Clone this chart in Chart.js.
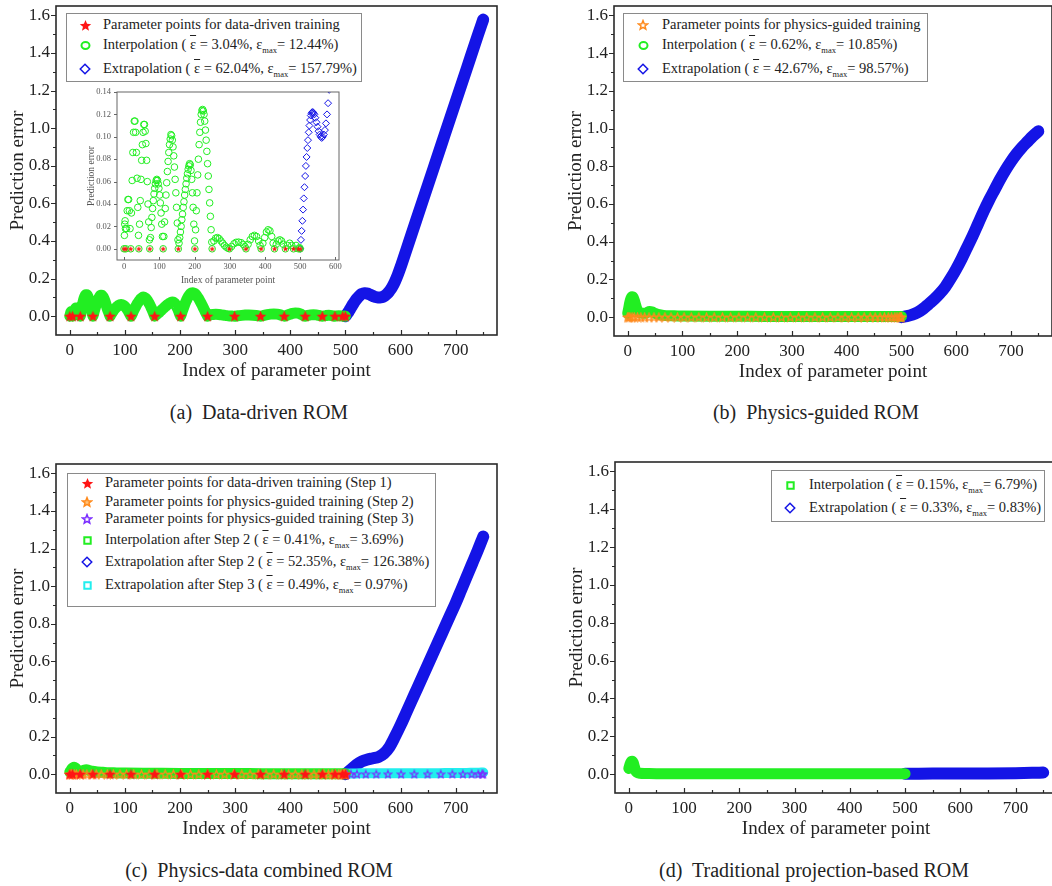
<!DOCTYPE html>
<html>
<head>
<meta charset="utf-8">
<title>Prediction error of reduced-order models</title>
<script src="https://cdn.jsdelivr.net/npm/chart.js@4.4.0/dist/chart.umd.min.js"></script>
<style>
  html, body { margin: 0; padding: 0; background: #fff; }
  body { width: 1052px; height: 886px; overflow: hidden; position: relative;
         font-family: 'Liberation Serif', 'Times New Roman', serif; color: #222; }
  canvas { position: absolute; }
  .legend { position: absolute; box-sizing: border-box; border: 1px solid #8a8a8a; background: #fff; }
  .row { position: absolute; white-space: nowrap; font-size: 14.5px; line-height: 16px; }
  .row sub { font-size: 8.5px; vertical-align: -4px; line-height: 0; }
  .bar { text-decoration: overline; }
  .cap { position: absolute; font-size: 20px; line-height: 20px; white-space: pre; transform: translateX(-50%); }
</style>
</head>
<body>
<canvas id="pa"></canvas>
<canvas id="pb"></canvas>
<canvas id="pc"></canvas>
<canvas id="pd"></canvas>
<canvas id="pi"></canvas>

<div class="cap" style="left:259px; top:402px;">(a)  Data-driven ROM</div>
<div class="cap" style="left:816px; top:402px;">(b)  Physics-guided ROM</div>
<div class="cap" style="left:259px; top:860px;">(c)  Physics-data combined ROM</div>
<div class="cap" style="left:814px; top:860px;">(d)  Traditional projection-based ROM</div>

<script>
// axis ticks
const xTicks = [0, 100, 200, 300, 400, 500, 600, 700];
const xMinor = [50, 150, 250, 350, 450, 550, 650, 750];
const yTicks = [0, 0.2, 0.4, 0.6, 0.8, 1.0, 1.2, 1.4, 1.6];
const yMinor = [0.1, 0.3, 0.5, 0.7, 0.9, 1.1, 1.3, 1.5];
const insetXTicks = [0, 100, 200, 300, 400, 500, 600];
const insetYTicks = [0, 0.02, 0.04, 0.06, 0.08, 0.10, 0.12, 0.14];

// training parameter points (error is zero there)
const trainIdx = [0, 5, 19, 42, 73, 111, 154, 201, 250, 299, 346, 389, 427, 458, 481, 495, 500];
const physIdx = [0, 2, 4, 8, 12, 18, 24, 31, 39, 48, 57, 68, 79, 91, 103, 116, 130, 144, 158, 173,
  188, 203, 219, 234, 250, 266, 281, 297, 312, 327, 342, 356, 370, 384, 397, 409, 421, 432, 443,
  452, 461, 469, 476, 482, 488, 492, 496, 498, 500];
const step3Idx = [500, 503, 510, 521, 537, 556, 577, 601, 625, 649, 673, 694, 713, 729, 741, 748, 750];

// (a) data-driven ROM, one line per lobe between training points
const interpIdxA = [
  0, 1, 2, 3, 4, 5,
  7, 9, 11, 13, 15, 17, 19,
  21, 23, 25, 27, 29, 31, 33, 35, 37, 39, 41, 42,
  44, 46, 48, 50, 52, 54, 56, 58, 60, 62, 64, 66, 68, 70, 72, 73,
  75, 77, 79, 81, 83, 85, 87, 89, 91, 93, 95, 97, 99, 101, 103, 105, 107, 109, 111,
  113, 115, 117, 119, 121, 123, 125, 127, 129, 131, 133, 135, 137, 139, 141, 143, 145, 147, 149, 151, 153, 154,
  156, 158, 160, 162, 164, 166, 168, 170, 172, 174, 176, 178, 180, 182, 184, 186, 188, 190, 192, 194, 196, 198, 200, 201,
  203, 205, 207, 209, 211, 213, 215, 217, 219, 221, 223, 225, 227, 229, 231, 233, 235, 237, 239, 241, 243, 245, 247, 249, 250,
  255, 260, 265, 270, 275, 280, 285, 290, 295, 299,
  305, 312, 318, 325, 332, 338, 343, 346,
  352, 358, 364, 370, 376, 382, 386, 389,
  394, 399, 404, 409, 414, 419, 423, 427,
  432, 437, 442, 447, 452, 458,
  464, 470, 476, 481,
  488, 495,
  498, 500];
const interpErrA = [
  0, 0.012, 0.022, 0.025, 0.018, 0,
  0.018, 0.034, 0.044, 0.044, 0.034, 0.018, 0,
  0.032, 0.061, 0.086, 0.104, 0.114, 0.114, 0.104, 0.086, 0.063, 0.037, 0.012, 0,
  0.022, 0.043, 0.062, 0.079, 0.093, 0.104, 0.111, 0.111, 0.105, 0.094, 0.079, 0.06, 0.04, 0.024, 0.008, 0,
  0.01, 0.019, 0.028, 0.036, 0.043, 0.049, 0.054, 0.058, 0.061, 0.062, 0.061, 0.058, 0.054, 0.048, 0.041, 0.032, 0.022, 0.011, 0,
  0.011, 0.024, 0.036, 0.048, 0.059, 0.069, 0.078, 0.086, 0.093, 0.098, 0.102, 0.101, 0.097, 0.091, 0.083, 0.073, 0.062, 0.05, 0.037, 0.023, 0.008, 0,
  0.005, 0.01, 0.015, 0.02, 0.026, 0.031, 0.037, 0.042, 0.048, 0.053, 0.058, 0.063, 0.067, 0.071, 0.074, 0.076, 0.075, 0.07, 0.062, 0.05, 0.037, 0.022, 0.007, 0,
  0.017, 0.034, 0.05, 0.066, 0.08, 0.093, 0.104, 0.113, 0.12, 0.1235, 0.1244, 0.123, 0.12, 0.114, 0.106, 0.097, 0.087, 0.076, 0.065, 0.053, 0.041, 0.029, 0.017, 0.006, 0,
  0.007, 0.0095, 0.01, 0.009, 0.007, 0.005, 0.003, 0.0015, 0.0005, 0,
  0.002, 0.0045, 0.0058, 0.006, 0.0055, 0.004, 0.002, 0,
  0.004, 0.008, 0.011, 0.012, 0.011, 0.007, 0.003, 0,
  0.005, 0.01, 0.015, 0.017, 0.016, 0.011, 0.005, 0,
  0.004, 0.007, 0.008, 0.007, 0.004, 0,
  0.003, 0.005, 0.003, 0,
  0.003, 0,
  0.001, 0];
const extrapIdxA = [
  500, 502, 504, 506, 508, 510, 512, 514, 516, 518, 520, 522, 524, 526, 528, 530, 532, 534, 536, 538, 540,
  543, 546, 549, 552, 555, 558, 561, 564, 567, 570, 573, 576, 579, 582, 585,
  590, 595, 600,
  610, 620, 640, 660, 680, 700, 720, 740, 750];
const extrapErrA = [
  0, 0.008, 0.016, 0.025, 0.035, 0.045, 0.055, 0.065, 0.074, 0.082, 0.09, 0.097, 0.104, 0.11, 0.115, 0.119, 0.121, 0.122, 0.122, 0.121, 0.12,
  0.117, 0.113, 0.109, 0.105, 0.102, 0.1, 0.099, 0.1, 0.102, 0.106, 0.112, 0.12, 0.13, 0.142, 0.156,
  0.185, 0.22, 0.26,
  0.348, 0.436, 0.612, 0.788, 0.964, 1.14, 1.316, 1.492, 1.5779];

// (b) physics-guided ROM
const interpIdxB = [0, 2, 4, 6, 8, 10, 12, 14, 16, 18, 20, 25, 30, 35, 40, 45, 50, 60, 70, 85, 100,
  150, 200, 250, 300, 350, 400, 450, 500];
const interpErrB = [0.02, 0.05, 0.08, 0.1, 0.1085, 0.105, 0.09, 0.07, 0.05, 0.035, 0.028, 0.022, 0.02,
  0.024, 0.03, 0.027, 0.02, 0.012, 0.008, 0.007, 0.006, 0.005, 0.005, 0.004, 0.004, 0.004, 0.004,
  0.004, 0.004];
const extrapIdxB = [500, 510, 520, 530, 540, 550, 560, 570, 580, 590, 600, 610, 620, 630, 640, 650,
  660, 670, 680, 690, 700, 710, 720, 730, 740, 750];
const extrapErrB = [0, 0.005, 0.013, 0.026, 0.045, 0.07, 0.095, 0.125, 0.16, 0.205, 0.255, 0.31, 0.37,
  0.43, 0.495, 0.56, 0.62, 0.675, 0.73, 0.78, 0.825, 0.865, 0.9, 0.93, 0.96, 0.9857];

// (c) physics-data combined ROM
const interpIdxC = [0, 2, 4, 6, 8, 10, 12, 14, 16, 20, 25, 30, 35, 40, 50, 60, 70, 85, 100, 150, 200,
  250, 300, 350, 400, 450, 500];
const interpErrC = [0.012, 0.02, 0.03, 0.035, 0.0369, 0.034, 0.028, 0.02, 0.016, 0.014, 0.02, 0.024,
  0.02, 0.016, 0.012, 0.01, 0.008, 0.007, 0.006, 0.005, 0.004, 0.004, 0.004, 0.003, 0.003, 0.003, 0.003];
const extrapIdxC = [500, 510, 520, 530, 540, 550, 560, 570, 580, 590, 600, 610, 620, 630, 640, 650,
  660, 670, 680, 690, 700, 710, 720, 730, 740, 750];
const extrapErrC = [0, 0.025, 0.05, 0.068, 0.078, 0.085, 0.092, 0.11, 0.145, 0.2, 0.26, 0.325, 0.39,
  0.455, 0.52, 0.585, 0.65, 0.715, 0.78, 0.845, 0.91, 0.98, 1.05, 1.12, 1.19, 1.2638];
const step3ExtIdx = [500, 520, 540, 560, 580, 600, 620, 640, 660, 680, 700, 720, 740, 750];
const step3ExtErr = [0.003, 0.004, 0.005, 0.005, 0.005, 0.005, 0.005, 0.005, 0.005, 0.006, 0.006,
  0.007, 0.008, 0.0097];

// (d) traditional projection-based ROM
const interpIdxD = [0, 2, 4, 6, 8, 10, 12, 15, 20, 30, 50, 100, 200, 300, 400, 500];
const interpErrD = [0.03, 0.05, 0.064, 0.0679, 0.06, 0.04, 0.02, 0.008, 0.004, 0.003, 0.002, 0.002,
  0.0015, 0.0015, 0.0015, 0.002];
const extrapIdxD = [500, 550, 600, 650, 700, 730, 750];
const extrapErrD = [0.002, 0.0025, 0.003, 0.0035, 0.005, 0.0065, 0.0083];

const GREEN = '#22ee22', BLUE = '#1414e6', RED = '#ff1414', ORANGE = '#ff8a1c',
      PURPLE = '#7a2cff', CYAN = '#22eeee', INK = '#222';

Chart.defaults.font.family = "'Liberation Serif', 'Times New Roman', serif";
Chart.defaults.color = INK;

// small marker bitmaps used as point styles and legend symbols
function mark(kind, size, color, lw, fill) {
  const c = document.createElement('canvas');
  c.width = c.height = size;
  const g = c.getContext('2d');
  const m = size / 2, r = m - (lw || 0) / 2 - 0.5;
  g.beginPath();
  if (kind === 'star') {
    for (let i = 0; i < 10; i++) {
      const a = -Math.PI / 2 + i * Math.PI / 5, rr = i % 2 ? r * 0.44 : r;
      g.lineTo(m + rr * Math.cos(a), m + r * 0.08 + rr * Math.sin(a));
    }
    g.closePath();
  } else if (kind === 'circle') {
    g.ellipse(m, m, r, r * 0.85, 0, 0, 2 * Math.PI);
  } else if (kind === 'diamond') {
    g.moveTo(m, m - r); g.lineTo(m + r, m); g.lineTo(m, m + r); g.lineTo(m - r, m); g.closePath();
  } else {
    g.rect(m - r * 0.8, m - r * 0.8, r * 1.6, r * 1.6);
  }
  if (fill) { g.fillStyle = fill; g.fill(); }
  if (lw) { g.strokeStyle = color; g.lineWidth = lw; g.stroke(); }
  return c;
}

const pairs = (xs, ys) => xs.map((x, i) => ({ x, y: ys[i] }));
const onZero = xs => xs.map(x => ({ x, y: 0 }));

// dense markers read as a thick band in the full-size panels
function band(xs, ys, color, w) {
  return { data: pairs(xs, ys), showLine: true, borderColor: color, borderWidth: w,
           pointRadius: 0, pointHoverRadius: 0, cubicInterpolationMode: 'monotone',
           borderCapStyle: 'round', borderJoinStyle: 'round' };
}
function stars(data, img) {
  return { data, showLine: false, pointStyle: img, pointRadius: 5, pointHoverRadius: 5 };
}

// box frame plus inward x ticks / outward y ticks
function frame(o) {
  return {
    id: 'frame',
    afterDatasetsDraw(chart) {
      const { ctx, chartArea: a } = chart;
      const sx = chart.scales.x, sy = chart.scales.y;
      ctx.save();
      ctx.strokeStyle = o.color;
      ctx.lineWidth = o.tickWidth;
      ctx.beginPath();
      const xt = (list, len) => list.forEach(v => {
        const p = Math.round(sx.getPixelForValue(v)) + 0.5;
        if (p < a.left || p > a.right) return;
        ctx.moveTo(p, a.bottom); ctx.lineTo(p, a.bottom - len);
      });
      const yt = (list, len) => list.forEach(v => {
        const p = Math.round(sy.getPixelForValue(v)) + 0.5;
        ctx.moveTo(a.left, p); ctx.lineTo(a.left - len, p);
      });
      xt(o.xMajor, o.major); xt(o.xMinor, o.minor);
      yt(o.yMajor, o.major); yt(o.yMinor, o.minor);
      ctx.stroke();
      ctx.lineWidth = o.frameWidth;
      ctx.strokeRect(a.left, a.top, a.right - a.left, a.bottom - a.top);
      ctx.restore();
    }
  };
}

function panel(id, g, datasets, s) {
  const cv = document.getElementById(id);
  cv.width = g.w; cv.height = g.h;
  cv.style.left = g.x + 'px'; cv.style.top = g.y + 'px';
  return new Chart(cv, {
    type: 'scatter',
    data: { datasets },
    options: {
      responsive: false, animation: false, events: [],
      layout: { padding: { left: 0, top: g.pt - g.y, right: g.x + g.w - g.pr, bottom: g.y + g.h - g.pb - s.xh } },
      plugins: { legend: { display: false }, tooltip: { enabled: false } },
      scales: {
        x: {
          type: 'linear', min: s.xmin, max: s.xmax,
          afterBuildTicks: a => { a.ticks = s.xt.map(v => ({ value: v })); },
          afterFit: a => { a.height = s.xh; a.paddingLeft = 0; a.paddingRight = 0; },
          grid: { display: false, drawTicks: false }, border: { display: false },
          ticks: { autoSkip: false, maxRotation: 0, padding: s.xpad, color: s.color,
                   font: { size: s.tick }, callback: v => String(v) },
          title: { display: true, text: 'Index of parameter point', color: s.color,
                   font: { size: s.title }, padding: { top: 0, bottom: s.xtp } }
        },
        y: {
          type: 'linear', min: s.ymin, max: s.ymax,
          afterBuildTicks: a => { a.ticks = s.yt.map(v => ({ value: v })); },
          afterFit: a => { a.width = g.pl - g.x; a.paddingTop = 0; a.paddingBottom = 0; },
          grid: { display: false, drawTicks: false }, border: { display: false },
          ticks: { autoSkip: false, padding: s.ypad, color: s.color,
                   font: { size: s.tick }, callback: v => v.toFixed(s.dec) },
          title: { display: true, text: 'Prediction error', color: s.color,
                   font: { size: s.title }, padding: { top: s.ytp, bottom: 0 } }
        }
      }
    },
    plugins: [frame(s.frame)]
  });
}

const mainStyle = {
  xmin: -25, xmax: 775, ymin: -0.1, ymax: 1.65, xt: xTicks, yt: yTicks, dec: 1,
  xh: 60, xpad: 5, ypad: 6, xtp: 12.6, ytp: 6.6, tick: 17, title: 19, color: INK,
  frame: { color: '#2a2a2a', tickWidth: 1.2, frameWidth: 1.6, major: 5, minor: 3,
           xMajor: xTicks, xMinor: xMinor, yMajor: yTicks, yMinor: yMinor }
};

const redStar = mark('star', 13, RED, 0, RED);
const orangeStar = mark('star', 11, ORANGE, 1.3);
const purpleStar = mark('star', 10, PURPLE, 1.2);

panel('pa', { x: 0, y: 0, w: 520, h: 400, pl: 56, pt: 5, pr: 497, pb: 335 }, [
  stars(onZero(trainIdx), redStar),
  band(interpIdxA, interpErrA, GREEN, 11),
  band(extrapIdxA, extrapErrA, BLUE, 12)
], mainStyle);

panel('pb', { x: 558, y: 0, w: 500, h: 400, pl: 614, pt: 5, pr: 1056, pb: 336 }, [
  stars(onZero(physIdx), orangeStar),
  band(interpIdxB, interpErrB, GREEN, 11),
  band(extrapIdxB, extrapErrB, BLUE, 12)
], mainStyle);

panel('pc', { x: 0, y: 458, w: 520, h: 400, pl: 56, pt: 463, pr: 497, pb: 793 }, [
  stars(onZero(trainIdx), redStar),
  stars(onZero(physIdx), orangeStar),
  stars(onZero(step3Idx), purpleStar),
  band(interpIdxC, interpErrC, GREEN, 11),
  band(step3ExtIdx, step3ExtErr, CYAN, 10),
  band(extrapIdxC, extrapErrC, BLUE, 12)
], mainStyle);

panel('pd', { x: 559, y: 458, w: 500, h: 400, pl: 615, pt: 462, pr: 1057, pb: 793 }, [
  band(interpIdxD, interpErrD, GREEN, 11),
  band(extrapIdxD, extrapErrD, BLUE, 12)
], mainStyle);

// zoomed inset of panel (a): individual hollow markers
panel('pi', { x: 80, y: 86, w: 264, h: 204, pl: 117, pt: 92, pr: 340, pb: 260 }, [
  { data: onZero(trainIdx), showLine: false, pointStyle: mark('star', 7, RED, 0, RED), pointRadius: 3, clip: 0 },
  { data: pairs(interpIdxA, interpErrA), showLine: false, pointStyle: 'circle', pointRadius: 3.3,
    borderWidth: 1, borderColor: GREEN, backgroundColor: 'transparent', clip: 0 },
  { data: pairs(extrapIdxA, extrapErrA), showLine: false, pointStyle: 'rectRot', pointRadius: 3.5,
    borderWidth: 1, borderColor: BLUE, backgroundColor: 'transparent', clip: 0 }
], {
  xmin: -20, xmax: 610, ymin: -0.01, ymax: 0.14, xt: insetXTicks, yt: insetYTicks, dec: 2,
  xh: 30, xpad: 2, ypad: 6, xtp: 4.3, ytp: 6, tick: 8.5, title: 9.5, color: '#555',
  frame: { color: '#666', tickWidth: 1, frameWidth: 1, major: 3, minor: 0,
           xMajor: insetXTicks, xMinor: [], yMajor: insetYTicks, yMinor: [] }
});

// legends
const eps = (mean, max) => `( <span class="bar">ε</span> = ${mean}, ε<sub>max</sub>= ${max})`;
function legend(box, mx, tx, rows) {
  const d = document.createElement('div');
  d.className = 'legend';
  Object.assign(d.style, { left: box[0] + 'px', top: box[1] + 'px',
    width: (box[2] - box[0]) + 'px', height: (box[3] - box[1]) + 'px' });
  document.body.appendChild(d);
  rows.forEach(r => {
    const m = r.m;
    m.style.left = (mx - m.width / 2) + 'px';
    m.style.top = (r.y - m.height / 2) + 'px';
    document.body.appendChild(m);
    const t = document.createElement('div');
    t.className = 'row';
    t.style.left = tx + 'px';
    t.style.top = (r.y - 9) + 'px';
    t.innerHTML = r.t;
    document.body.appendChild(t);
  });
}

legend([66, 13, 362, 82], 85, 103, [
  { y: 25, m: mark('star', 13, RED, 0, RED), t: 'Parameter points for data-driven training' },
  { y: 45, m: mark('circle', 11, GREEN, 2), t: 'Interpolation ' + eps('3.04%', '12.44%') },
  { y: 69, m: mark('diamond', 12, BLUE, 1.5), t: 'Extrapolation ' + eps('62.04%', '157.79%') }
]);
legend([623, 13, 928, 82], 643, 662, [
  { y: 25, m: mark('star', 12, ORANGE, 1.5), t: 'Parameter points for physics-guided training' },
  { y: 45, m: mark('circle', 11, GREEN, 2), t: 'Interpolation ' + eps('0.62%', '10.85%') },
  { y: 69, m: mark('diamond', 12, BLUE, 1.5), t: 'Extrapolation ' + eps('42.67%', '98.57%') }
]);
legend([67, 473, 436, 607], 87, 105, [
  { y: 483, m: mark('star', 13, RED, 0, RED), t: 'Parameter points for data-driven training (Step 1)' },
  { y: 502, m: mark('star', 12, ORANGE, 1.5, '#ffc27a'), t: 'Parameter points for physics-guided training (Step 2)' },
  { y: 519, m: mark('star', 12, PURPLE, 1.5), t: 'Parameter points for physics-guided training (Step 3)' },
  { y: 540, m: mark('square', 11, GREEN, 2), t: 'Interpolation after Step 2 ' + eps('0.41%', '3.69%') },
  { y: 562, m: mark('diamond', 12, BLUE, 1.5), t: 'Extrapolation after Step 2 ' + eps('52.35%', '126.38%') },
  { y: 585, m: mark('square', 11, CYAN, 2), t: 'Extrapolation after Step 3 ' + eps('0.49%', '0.97%') }
]);
legend([771, 470, 1045, 522], 790, 809, [
  { y: 485, m: mark('square', 11, GREEN, 2), t: 'Interpolation ' + eps('0.15%', '6.79%') },
  { y: 508, m: mark('diamond', 12, BLUE, 1.5), t: 'Extrapolation ' + eps('0.33%', '0.83%') }
]);
</script>
</body>
</html>
